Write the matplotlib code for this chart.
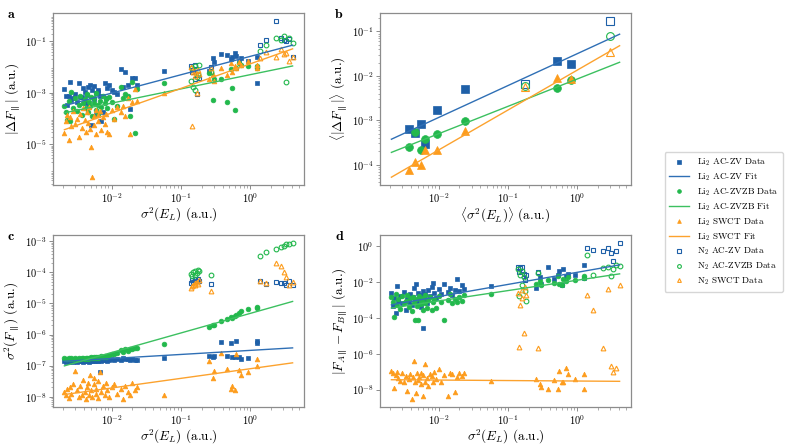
import numpy as np
import matplotlib
matplotlib.use("Agg")
import matplotlib.pyplot as plt

plt.rcParams['font.family'] = 'serif'
plt.rcParams['font.serif'] = ['cmr10']
plt.rcParams['mathtext.fontset'] = 'cm'
plt.rcParams['axes.formatter.use_mathtext'] = True
plt.rcParams['axes.unicode_minus'] = False

# values are log10 of what was read off the picture
# sigma^2(E_L) per sample, shared by all three force estimators
li_x = [-2.68, -2.66, -2.64, -2.62, -2.60, -2.58, -2.56, -2.53, -2.50, -2.47,
        -2.45, -2.43, -2.41, -2.39, -2.37, -2.35, -2.34, -2.32, -2.31, -2.30,
        -2.28, -2.26, -2.25, -2.23, -2.22, -2.20, -2.19, -2.17, -2.15, -2.13,
        -2.10, -2.08, -2.06, -2.03, -2.00, -1.96, -1.92, -1.87, -1.83, -1.80,
        -1.76, -1.73, -1.70, -1.66, -1.63,
        -1.24,
        -0.60, -0.54, -0.53, -0.42, -0.34, -0.28, -0.26, -0.22, -0.21, -0.16, -0.14, -0.04, 0.09, 0.09]
n2_x = [-0.86, -0.84, -0.82, -0.80, -0.79, -0.77, -0.76, -0.74, -0.57,
        0.14, 0.22, 0.37, 0.45, 0.49, 0.52, 0.56, 0.61]

# panel a : |dF|
a_li_zv = [-2.85, -3.10, -3.45, -3.10, -2.58, -3.29, -3.20, -3.05, -3.35, -2.61,
           -3.15, -3.16, -2.80, -2.97, -3.40, -3.07, -2.75, -3.55, -2.69, -4.23,
           -2.87, -2.74, -3.25, -3.00, -3.87, -2.90, -2.97, -3.10, -4.10, -3.74,
           -2.61, -3.20, -2.81, -2.71, -2.87, -2.95, -3.05, -2.07, -2.75, -2.17,
           -2.69, -3.61, -2.43, -2.42, -2.69,
           -2.13,
           -2.13, -1.66, -1.80, -1.50, -1.53, -1.68, -1.62, -1.45, -1.58, -1.81, -1.66, -1.75, -1.59, -2.60]
a_li_zvzb = [-3.50, -3.75, -4.05, -3.30, -4.10, -2.97, -3.60, -3.20, -3.70, -3.45,
             -3.10, -3.85, -3.40, -3.25, -3.60, -3.05, -3.75, -3.35, -3.50, -3.15,
             -3.90, -3.40, -3.20, -3.65, -3.00, -3.45, -3.80, -3.30, -3.55, -3.10,
             -3.40, -3.25, -3.60, -3.15, -3.35, -4.00, -3.50, -2.78, -3.20, -3.05,
             -3.10, -3.90, -2.58, -4.55, -2.85,
             -2.61,
             -2.22, -3.29, -2.46, -2.46, -3.36, -2.07, -2.81, -3.68, -2.04, -1.84, -1.92, -1.94, -1.97, -2.04]
a_li_swct = [-4.55, -4.10, -3.85, -4.84, -3.95, -4.30, -3.70, -4.20, -4.00, -4.71,
             -3.80, -4.35, -3.60, -4.05, -4.50, -3.75, -4.15, -3.55, -4.40, -5.09,
             -6.27, -3.90, -4.25, -3.65, -4.60, -3.85, -4.10, -3.70, -4.45, -3.95,
             -4.20, -3.80, -4.50, -4.58, -3.65, -4.00, -3.55, -3.75, -3.51, -3.90,
             -3.20, -4.58, -3.35, -2.84, -3.30,
             -3.01,
             -2.45, -2.28, -2.55, -2.04, -2.30, -1.85, -2.20, -1.97, -2.05, -1.80, -1.90, -1.75, -2.05, -1.93]
a_n2_zv = [-1.95, -2.20, -2.11, -1.92, -2.45, -3.03, -2.30, -2.43, -2.00,
           -1.15, -0.96, -0.20, -0.87, -0.94, -0.98, -0.90, -1.59]
a_n2_zvzb = [-2.52, -2.05, -2.78, -1.95, -2.90, -2.40, -2.25, -1.92, -2.20,
             -1.39, -1.15, -0.87, -0.95, -0.78, -2.58, -0.85, -1.07]
a_n2_swct = [-2.00, -4.28, -2.20, -2.15, -2.35, -3.00, -2.10, -2.25, -2.05,
             -1.64, -1.40, -1.60, -1.30, -1.50, -1.45, -1.77, -1.62]

# panel b : means per system
b_li_x = [-2.425, -2.339, -2.248, -2.20, -2.019, -1.622, -0.291, -0.096]
b_n2_x = [-0.749, 0.473]
b_li_zv = [-3.19, -3.28, -3.08, -3.53, -2.78, -2.30, -1.67, -1.73]
b_li_zvzb = [-3.60, -3.26, -3.68, -3.43, -3.32, -3.02, -2.28, -2.10]
b_li_swct = [-4.13, -3.93, -4.01, -3.68, -3.68, -3.24, -2.04, -2.06]
b_n2_zv = [-2.19, -0.76]
b_n2_zvzb = [-2.22, -1.11]
b_n2_swct = [-2.24, -1.47]

# panel c : sigma^2(F)
c_li_zv = [-6.85, -6.88, -6.84, -6.87, -6.86, -6.83, -6.87, -6.85, -6.88, -6.84,
           -6.86, -6.83, -6.87, -6.85, -6.84, -6.86, -6.82, -6.87, -6.85, -6.83,
           -6.86, -6.84, -6.81, -6.85, -6.83, -6.86, -6.82, -7.20, -6.84, -6.81,
           -6.83, -6.80, -6.84, -6.82, -6.79, -6.83, -6.78, -6.81, -6.77, -6.80,
           -6.78, -6.82, -6.79, -6.81, -6.83,
           -6.76,
           -6.70, -6.72, -6.68, -6.25, -6.70, -6.26, -6.72, -6.71, -6.22, -6.73, -6.78, -6.76, -6.20, -6.28]
c_li_zvzb = [-6.75, -6.78, -6.80, -6.76, -6.79, -6.77, -6.80, -6.76, -6.78, -6.75,
             -6.79, -6.77, -6.74, -6.78, -6.76, -6.75, -6.79, -6.74, -6.77, -6.73,
             -6.76, -6.74, -6.72, -6.75, -6.73, -6.71, -6.74, -6.72, -6.70, -6.73,
             -6.69, -6.71, -6.68, -6.66, -6.64, -6.62, -6.58, -6.50, -6.55, -6.48,
             -6.52, -6.45, -6.47, -6.42, -6.44,
             -6.30,
             -5.75, -5.68, -5.70, -5.57, -5.51, -5.43, -5.47, -5.40, -5.36, -5.30, -5.25, -5.19, -5.12, -5.14]
c_li_swct = [-7.85, -7.95, -7.74, -8.05, -7.70, -7.90, -7.58, -7.17, -7.80, -8.01,
             -7.65, -7.95, -7.45, -7.85, -8.08, -7.70, -7.55, -7.95, -7.30, -7.80,
             -8.00, -7.60, -7.39, -7.90, -7.75, -7.50, -8.05, -7.20, -7.85, -7.65,
             -7.95, -7.55, -7.80, -8.00, -7.70, -7.60, -7.90, -7.75, -8.07, -7.65,
             -7.85, -7.95, -7.55, -7.80, -7.70,
             -7.95,
             -6.85, -7.39, -7.17, -6.58, -7.12, -7.74, -7.65, -7.80, -6.64, -7.15, -7.30, -7.20, -6.79, -7.00]
c_n2_zv = [-4.35, -4.25, -4.30, -4.20, -4.32, -4.28, -4.22, -4.27, -4.39,
           -4.27, -4.36, -4.30, -4.33, -4.35, -4.40, -4.28, -4.42]
c_n2_zvzb = [-4.05, -4.12, -3.98, -4.08, -3.95, -4.02, -3.92, -3.97, -4.08,
             -3.47, -3.36, -3.25, -3.18, -3.15, -3.10, -3.08, -3.05]
c_n2_swct = [-4.50, -4.45, -4.40, -4.35, -4.42, -4.30, -4.38, -4.25, -4.60,
             -4.27, -4.35, -3.70, -3.78, -4.00, -4.15, -4.40, -4.30]

# panel d : |F_A - F_B|
d_li_zv = [-2.63, -3.37, -2.90, -3.74, -2.25, -3.05, -2.80, -3.20, -2.55, -3.55,
           -2.95, -3.10, -2.70, -3.30, -2.85, -2.33, -3.00, -2.14, -3.15, -2.60,
           -2.90, -3.40, -2.75, -2.50, -4.58, -2.95, -2.65, -3.20, -2.45, -2.80,
           -2.30, -2.05, -2.60, -2.90, -2.40, -2.70, -2.10, -2.55, -2.35, -2.75,
           -2.45, -1.83, -2.50, -2.20, -2.40,
           -2.25,
           -2.35, -1.75, -2.10, -1.19, -1.85, -1.60, -1.40, -2.15, -1.30, -1.70, -1.55, -1.62, -1.04, -1.79]
d_li_zvzb = [-2.85, -3.13, -3.97, -2.70, -3.30, -2.95, -3.50, -2.80, -3.20, -3.05,
             -2.75, -3.40, -2.90, -3.60, -2.85, -3.15, -4.15, -2.95, -3.35, -4.10,
             -2.80, -3.25, -3.00, -3.55, -2.90, -3.20, -2.75, -3.45, -3.00, -2.85,
             -3.59, -3.10, -2.95, -3.43, -2.80, -3.15, -4.10, -3.00, -2.70, -3.20,
             -2.95, -3.10, -2.85, -3.05, -2.75,
             -2.66,
             -2.11, -1.95, -2.20, -1.88, -2.05, -1.69, -2.10, -2.20, -1.85, -1.95, -1.75, -1.90, -1.70, -1.80]
d_li_swct = [-6.95, -7.05, -7.92, -7.20, -7.00, -7.35, -7.50, -7.10, -7.60, -7.25,
             -8.06, -7.40, -7.15, -8.53, -7.30, -6.39, -7.55, -8.20, -7.10, -7.45,
             -7.30, -7.70, -7.05, -8.35, -7.20, -7.60, -6.58, -7.35, -7.80, -7.15,
             -7.25, -7.55, -7.00, -7.40, -6.85, -7.60, -7.20, -8.34, -7.05, -7.15,
             -8.15, -7.30, -7.10, -7.25, -7.05,
             -7.50,
             -7.41, -7.69, -7.88, -7.97, -7.45, -7.97, -6.95, -7.60, -7.55, -6.82, -7.13, -7.40, -7.15, -7.97]
d_n2_zv = [-1.19, -1.47, -1.25, -1.40, -1.19, -1.55, -1.88, -1.60, -1.45,
           -0.11, -0.24, -0.30, -0.10, -0.40, -0.85, -0.28, 0.17]
d_n2_zvzb = [-1.30, -2.80, -1.60, -2.20, -1.40, -1.75, -2.50, -3.09, -1.50,
             -0.49, -1.60, -1.25, -1.15, -1.70, -1.30, -1.05, -1.10]
d_n2_swct = [-2.60, -5.60, -3.28, -2.45, -2.90, -4.82, -2.30, -2.75, -5.70,
             -2.72, -3.56, -5.70, -2.40, -6.69, -7.00, -6.80, -2.20]

# log-log fits (slope, intercept) for ZV, ZVZB, SWCT
fit_a = [(0.714, -1.58), (0.553, -2.29), (0.954, -1.87)]
fit_b = [(0.719, -1.50), (0.617, -2.07), (0.900, -1.87)]
fit_c = [(0.131, -6.51), (0.630, -5.32), (0.310, -7.10)]
fit_d = [(0.675, -1.47), (0.578, -1.91), (-0.027, -7.52)]

methods = ['AC-ZV', 'AC-ZVZB', 'SWCT']
colors = ['#1f60a8', '#22b84c', '#fd9c1c']
fitcolors = ['#2f6fb5', '#3cc060', '#fca22e']
markers = ['s', 'o', '^']

fig = plt.figure(figsize=(7.89, 4.46), dpi=100)
W, H = 789, 446
pos = {'a': [53, 13, 251, 172], 'b': [380, 13, 251, 172],
       'c': [53, 235, 251, 172], 'd': [380, 235, 251, 172]}

def make_ax(key):
    l, t, w, h = pos[key]
    ax = fig.add_axes([l / W, 1 - (t + h) / H, w / W, h / H])
    ax.set_xscale('log')
    ax.set_yscale('log')
    for s in ax.spines.values():
        s.set_color('#8c8c8c')
        s.set_linewidth(0.9)
    ax.tick_params(which='major', direction='out', length=3, width=0.7,
                   color='#8c8c8c', labelsize=7.5, pad=1.5)
    ax.tick_params(which='minor', direction='out', length=1.8, width=0.5,
                   color='#8c8c8c')
    fig.text((l - 45) / W, 1 - (t - 4) / H, key, fontfamily='cmb10',
             fontsize=10, va='top', ha='left')
    return ax

x_all = np.array(li_x + n2_x)
fx = np.array([x_all.min(), x_all.max()])

def draw(ax, lx, nx, li_sets, n2_sets, fits, ms):
    for i in range(3):
        ax.plot(10.0 ** np.array(lx), 10.0 ** np.array(li_sets[i]), linestyle='none',
                marker=markers[i], ms=ms, color=colors[i], mec=colors[i], mew=0.5,
                label='Li$_2$ ' + methods[i] + ' Data', zorder=3)
        k, b0 = fits[i]
        ax.plot(10.0 ** fx, 10.0 ** (b0 + k * fx), color=fitcolors[i], lw=1.0,
                label='Li$_2$ ' + methods[i] + ' Fit', zorder=4)
    for i in range(3):
        ax.plot(10.0 ** np.array(nx), 10.0 ** np.array(n2_sets[i]), linestyle='none',
                marker=markers[i], ms=ms, mfc='none', mec=colors[i], mew=0.8,
                label='N$_2$ ' + methods[i] + ' Data', zorder=3)

lab_fs = 9.5
xpad = 0.5

ax_a = make_ax('a')
draw(ax_a, li_x, n2_x, [a_li_zv, a_li_zvzb, a_li_swct],
     [a_n2_zv, a_n2_zvzb, a_n2_swct], fit_a, 3.4)
ax_a.set_xlabel(r'$\sigma^2(E_L)$ (a.u.)', fontsize=lab_fs, labelpad=xpad)
ax_a.set_ylabel(r'$|\Delta F_{\parallel}|$ (a.u.)', fontsize=lab_fs, labelpad=2)
ax_a.set_yticks([1e-1, 1e-3, 1e-5])

ax_b = make_ax('b')
draw(ax_b, b_li_x, b_n2_x, [b_li_zv, b_li_zvzb, b_li_swct],
     [b_n2_zv, b_n2_zvzb, b_n2_swct], fit_b, 5.6)
ax_b.set_xlabel(r'$\langle\sigma^2(E_L)\rangle$ (a.u.)', fontsize=lab_fs, labelpad=xpad)
ax_b.set_ylabel(r'$\langle|\Delta F_{\parallel}|\rangle$ (a.u.)', fontsize=lab_fs, labelpad=2)

ax_c = make_ax('c')
draw(ax_c, li_x, n2_x, [c_li_zv, c_li_zvzb, c_li_swct],
     [c_n2_zv, c_n2_zvzb, c_n2_swct], fit_c, 3.4)
ax_c.set_xlabel(r'$\sigma^2(E_L)$ (a.u.)', fontsize=lab_fs, labelpad=xpad)
ax_c.set_ylabel(r'$\sigma^2(F_{\parallel})$ (a.u.)', fontsize=lab_fs, labelpad=2)

ax_d = make_ax('d')
draw(ax_d, li_x, n2_x, [d_li_zv, d_li_zvzb, d_li_swct],
     [d_n2_zv, d_n2_zvzb, d_n2_swct], fit_d, 3.4)
ax_d.set_xlabel(r'$\sigma^2(E_L)$ (a.u.)', fontsize=lab_fs, labelpad=xpad)
ax_d.set_ylabel(r'$|F_{A\parallel} - F_{B\parallel}|$ (a.u.)', fontsize=lab_fs, labelpad=2)
ax_d.set_yticks([1e0, 1e-2, 1e-4, 1e-6, 1e-8])

for ax in [ax_a, ax_c, ax_d]:
    ax.set_xticks([1e-2, 1e-1, 1e0])

handles, labels = ax_a.get_legend_handles_labels()
fig.legend(handles, labels, loc='center left', bbox_to_anchor=(660 / W, 1 - 222 / H),
           fontsize=6.6, frameon=True, edgecolor='#cccccc', fancybox=True,
           handlelength=2.2, borderpad=0.5, labelspacing=0.36, markerscale=0.8)

fig.savefig('out.png', dpi=100)
